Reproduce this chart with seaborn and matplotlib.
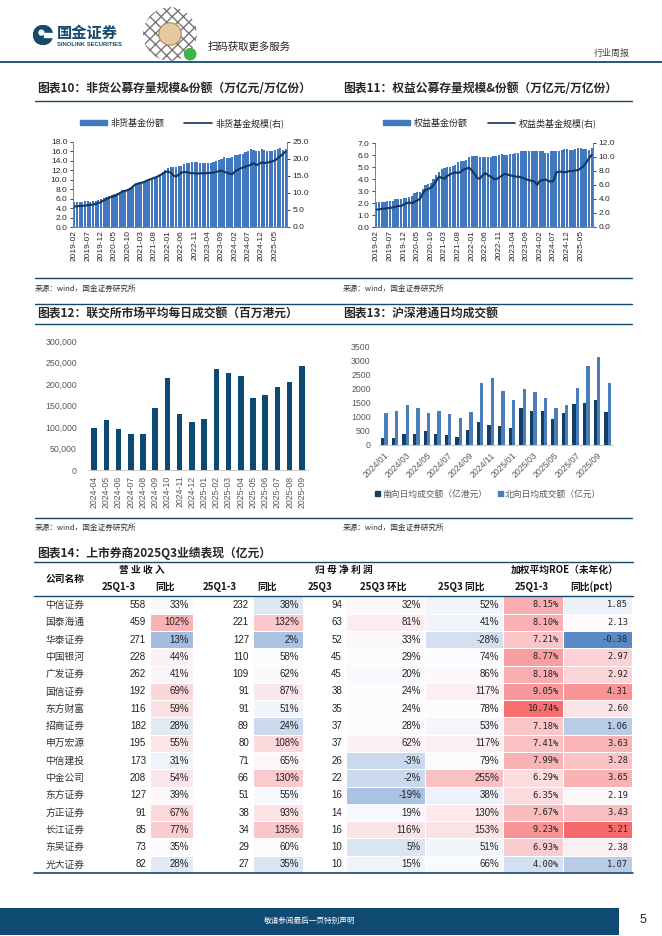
import numpy as np
import pandas as pd
import matplotlib
matplotlib.use("Agg")
import matplotlib.pyplot as plt
import seaborn as sns
from matplotlib.lines import Line2D
from matplotlib.patches import Circle, Rectangle
from matplotlib.colors import LinearSegmentedColormap
from matplotlib.ticker import FuncFormatter, MultipleLocator

sns.set_style("white")
plt.rcParams["font.family"] = ["Noto Sans CJK SC", "DejaVu Sans"]
plt.rcParams["axes.unicode_minus"] = False

W, H = 662, 936
NUM = ["Liberation Sans", "Noto Sans CJK SC"]
NAVY = "#17496D"
BAR_BLUE = "#4178BE"
LINE_NAVY = "#14375E"
GREY_TXT = "#595959"

# ---------------- data ----------------
fund_months = list(pd.date_range("2019-02-01", "2025-09-01", freq="MS").strftime("%Y-%m"))

# 图表10 非货基金份额(万亿份) / 规模(万亿元)
nonmoney_share = [5.2, 5.3, 5.4, 5.4, 5.5, 5.5, 5.4, 5.5, 5.6, 5.8, 6.0,
                  6.1, 6.3, 6.5, 6.7, 6.9, 7.2, 7.5, 7.8, 7.9, 8.1, 8.3, 8.6,
                  9.0, 9.3, 9.6, 9.8, 10.0, 10.2, 10.4, 10.6, 10.9, 11.2, 11.6, 12.0,
                  12.5, 12.7, 12.8, 12.8, 12.9, 13.0, 13.3, 13.5, 13.6, 13.7, 13.8, 13.7,
                  13.6, 13.5, 13.6, 13.5, 13.6, 13.8, 14.0, 14.2, 14.5, 14.8, 14.6, 14.6,
                  14.8, 15.2, 15.3, 15.4, 15.4, 15.9, 16.2, 16.5, 16.4, 16.2, 16.0, 16.6,
                  16.4, 16.1, 16.2, 16.2, 16.3, 16.5, 16.7, 16.4, 16.6]
nonmoney_aum = [6.0, 6.1, 6.2, 6.2, 6.3, 6.4, 6.5, 6.6, 6.8, 7.0, 7.4,
                7.8, 8.2, 8.6, 8.9, 9.1, 9.4, 10.0, 10.4, 10.6, 10.9, 11.3, 12.0,
                12.6, 12.8, 13.0, 13.2, 13.6, 13.9, 14.2, 14.5, 14.8, 15.2, 15.7, 16.2,
                16.3, 16.0, 15.2, 14.8, 15.4, 16.0, 16.2, 16.1, 15.9, 15.8, 15.8, 15.7,
                15.8, 15.8, 15.8, 15.9, 15.9, 16.0, 16.2, 16.4, 16.6, 16.2, 16.0, 15.7,
                15.5, 16.3, 16.8, 17.2, 17.5, 17.8, 18.0, 18.3, 18.8, 18.2, 18.5, 19.0,
                18.8, 18.9, 19.1, 19.3, 19.6, 20.2, 20.8, 21.5, 22.2]

# 图表11 权益基金份额(万亿份) / 规模(万亿元)
equity_share = [2.1, 2.1, 2.1, 2.1, 2.2, 2.2, 2.2, 2.3, 2.3, 2.3, 2.4,
                2.4, 2.5, 2.6, 2.8, 2.9, 2.9, 3.2, 3.5, 3.6, 3.7, 4.0, 4.3,
                4.6, 4.8, 4.9, 5.0, 5.0, 5.1, 5.2, 5.4, 5.5, 5.5, 5.6, 5.8,
                5.9, 5.9, 5.9, 5.8, 5.8, 5.8, 5.8, 5.8, 5.9, 5.9, 6.0, 6.1,
                6.0, 6.0, 6.1, 6.1, 6.2, 6.2, 6.3, 6.3, 6.3, 6.3, 6.3, 6.3,
                6.3, 6.3, 6.3, 6.2, 6.2, 6.3, 6.3, 6.3, 6.3, 6.4, 6.5, 6.5,
                6.4, 6.4, 6.5, 6.6, 6.6, 6.5, 6.5, 6.4, 6.6]
equity_aum = [2.5, 2.5, 2.6, 2.6, 2.7, 2.7, 2.8, 2.9, 3.0, 3.0, 3.2,
              3.4, 3.5, 3.4, 3.6, 3.8, 4.0, 4.8, 5.3, 5.4, 5.6, 6.0, 6.6,
              7.2, 7.0, 6.9, 7.3, 7.5, 7.7, 7.8, 7.7, 7.9, 8.2, 8.3, 8.5,
              8.1, 7.6, 7.0, 6.9, 7.4, 7.7, 7.4, 7.2, 6.9, 6.8, 7.1, 7.3,
              7.6, 7.5, 7.4, 7.3, 7.2, 7.2, 7.1, 7.0, 6.8, 6.7, 6.6, 6.5,
              6.0, 6.6, 6.7, 6.8, 6.6, 6.5, 6.6, 7.8, 7.9, 7.9, 7.8, 7.9,
              8.0, 8.0, 8.1, 8.1, 8.4, 8.7, 9.2, 9.8, 10.3]

# 图表12 联交所市场平均每日成交额（百万港元）
hk_months = ["2024-04", "2024-05", "2024-06", "2024-07", "2024-08", "2024-09",
             "2024-10", "2024-11", "2024-12", "2025-01", "2025-02", "2025-03",
             "2025-04", "2025-05", "2025-06", "2025-07", "2025-08", "2025-09"]
hk_turnover = [97000, 116000, 95000, 83000, 83000, 144000, 215000, 130000, 111000,
               118000, 234000, 225000, 218000, 167000, 175000, 192000, 204000, 243000]

# 图表13 沪深港通日均成交额
connect_months = ["2024/01", "2024/02", "2024/03", "2024/04", "2024/05", "2024/06",
                  "2024/07", "2024/08", "2024/09", "2024/10", "2024/11", "2024/12",
                  "2025/01", "2025/02", "2025/03", "2025/04", "2025/05", "2025/06",
                  "2025/07", "2025/08", "2025/09", "2025/10"]
southbound = [250, 250, 377, 377, 506, 377, 341, 271, 542, 801, 695, 660,
              589, 1296, 1190, 1190, 907, 1119, 1437, 1472, 1578, 1154]
northbound = [1119, 1201, 1402, 1307, 1119, 1201, 1084, 954, 1154, 2179, 2368, 1897,
              1590, 1967, 1861, 1649, 1307, 1402, 2002, 2780, 3098, 2179]
south_label = "南向日均成交额（亿港元）"
north_label = "北向日均成交额（亿元）"

# 图表14 上市券商2025Q3业绩表现（亿元）
brokers = ["中信证券", "国泰海通", "华泰证券", "中国银河", "广发证券", "国信证券",
           "东方财富", "招商证券", "申万宏源", "中信建投", "中金公司", "东方证券",
           "方正证券", "长江证券", "东吴证券", "光大证券"]
revenue = [558, 459, 271, 228, 262, 192, 116, 182, 195, 173, 208, 127, 91, 85, 73, 82]
revenue_yoy = [33, 102, 13, 44, 41, 69, 59, 28, 55, 31, 54, 39, 67, 77, 35, 28]
net_profit = [232, 221, 127, 110, 109, 91, 91, 89, 80, 71, 66, 51, 38, 34, 29, 27]
net_profit_yoy = [38, 132, 2, 58, 62, 87, 51, 24, 108, 65, 130, 55, 93, 135, 60, 35]
q3_profit = [94, 63, 52, 45, 45, 38, 35, 37, 37, 26, 22, 16, 14, 16, 10, 10]
q3_qoq = [32, 81, 33, 29, 20, 24, 24, 28, 62, -3, -2, -19, 19, 116, 5, 15]
q3_yoy = [52, 41, -28, 74, 86, 117, 78, 53, 117, 79, 255, 38, 130, 153, 51, 66]
roe = [8.15, 8.10, 7.21, 8.77, 8.18, 9.05, 10.74, 7.18, 7.41, 7.99, 6.29, 6.35,
       7.67, 9.23, 6.93, 4.00]
roe_pct = [1.85, 2.13, -0.38, 2.97, 2.92, 4.31, 2.60, 1.06, 3.63, 3.28, 3.65, 2.19,
           3.43, 5.21, 2.38, 1.07]

# ---------------- helpers ----------------
fig = plt.figure(figsize=(W / 100, H / 100), dpi=100)


def fx(x):
    return x / W


def fy(y):
    return 1 - y / H


def px_axes(x0, y0, x1, y1):
    return fig.add_axes([fx(x0), fy(y1), (x1 - x0) / W, (y1 - y0) / H])


def hline(x0, x1, y, color=NAVY, lw=1.0):
    fig.add_artist(Line2D([fx(x0), fx(x1)], [fy(y), fy(y)], transform=fig.transFigure,
                          color=color, lw=lw))


def put(x, y, s, **kw):
    kw.setdefault("va", "center")
    fig.text(fx(x), fy(y), s, **kw)


# ---------------- page header ----------------
logo = px_axes(33, 25, 53, 45)
logo.set_xlim(0, 1)
logo.set_ylim(0, 1)
logo.set_aspect("equal")
logo.axis("off")
logo.add_patch(Circle((0.5, 0.5), 0.48, color=NAVY))
logo.add_patch(Rectangle((0.55, 0.38), 0.5, 0.24, color="white"))
logo.add_patch(Circle((0.42, 0.62), 0.12, color="white"))
put(57, 33, "国金证券", fontsize=11, fontweight="bold", color=NAVY)
put(57, 44, "SINOLINK SECURITIES", fontsize=4.2, fontweight="bold", color=NAVY, family=NUM)

qr = px_axes(142, 6, 198, 62)
qr.set_xlim(0, 1)
qr.set_ylim(0, 1)
qr.set_aspect("equal")
qr.axis("off")
qr.add_patch(Circle((0.5, 0.5), 0.48, facecolor="white", edgecolor="#777777", hatch="xxx", lw=0))
qr.add_patch(Circle((0.5, 0.5), 0.2, facecolor="#E4C9A2", edgecolor="#B08850", lw=0.8))
qr.add_patch(Circle((0.86, 0.14), 0.1, color="#3BB34A"))
put(208, 47, "扫码获取更多服务", fontsize=7.5, color="#222222")
put(612, 53, "行业周报", fontsize=6.5, ha="center", color="#404040")
hline(0, W, 62, lw=1.3)

# ---------------- chart titles ----------------
put(37, 89, "图表10：非货公募存量规模&份额（万亿元/万亿份）", fontsize=8.5, fontweight="bold")
put(343, 89, "图表11：权益公募存量规模&份额（万亿元/万亿份）", fontsize=8.5, fontweight="bold")
hline(35, 632, 101, lw=1.0)


def fund_chart(box, shares, aum, left_max, left_step, right_max, right_step,
               bar_label, line_label, legend_x):
    ax = px_axes(*box)
    frame = pd.DataFrame({"month": fund_months, "share": shares})
    sns.barplot(data=frame, x="month", y="share", color=BAR_BLUE, saturation=1,
                width=0.8, linewidth=0, ax=ax)
    ax.set_xlim(-0.5, len(fund_months) - 0.5)
    ax.set_ylim(0, left_max)
    ax.yaxis.set_major_locator(MultipleLocator(left_step))
    ax.yaxis.set_major_formatter(FuncFormatter(lambda v, p: f"{v:.1f}"))
    ax.set_xticks(range(0, len(fund_months), 5))
    ax.set_xticklabels(fund_months[::5], rotation=90, family=NUM, fontsize=6)
    ax.set_xlabel("")
    ax.set_ylabel("")
    ax.tick_params(axis="y", left=True, length=2, width=0.6, pad=2, labelsize=6)
    ax.tick_params(axis="x", length=0, pad=2)
    for lab in ax.get_yticklabels():
        lab.set_family(NUM)
    ax2 = ax.twinx()
    sns.lineplot(x=np.arange(len(fund_months)), y=aum, color=LINE_NAVY, lw=1.5, ax=ax2)
    ax2.set_ylim(0, right_max)
    ax2.yaxis.set_major_locator(MultipleLocator(right_step))
    ax2.yaxis.set_major_formatter(FuncFormatter(lambda v, p: f"{v:.1f}"))
    ax2.tick_params(axis="y", right=True, length=2, width=0.6, pad=2, labelsize=6)
    for lab in ax2.get_yticklabels():
        lab.set_family(NUM)
    ax2.set_ylabel("")
    for a in (ax, ax2):
        a.spines["top"].set_visible(False)
        for s in ("left", "right", "bottom"):
            a.spines[s].set_color("#7F7F7F")
            a.spines[s].set_linewidth(0.6)
    handles = [Rectangle((0, 0), 1, 1, color=BAR_BLUE), Line2D([], [], color=LINE_NAVY, lw=1.2)]
    fig.legend(handles, [bar_label, line_label], loc="center",
               bbox_to_anchor=(fx(legend_x), fy(123)), ncol=2, frameon=False,
               fontsize=6.5, handlelength=3.0, handleheight=0.45, columnspacing=2.2,
               handletextpad=0.4)


fund_chart((73, 142, 287, 227), nonmoney_share, nonmoney_aum, 18, 2, 25, 5,
           "非货基金份额", "非货基金规模(右)", 182)
fund_chart((375, 143, 593, 227), equity_share, equity_aum, 7, 1, 12, 2,
           "权益基金份额", "权益类基金规模(右)", 490)

hline(35, 632, 278, lw=1.0)
put(35, 289, "来源：wind，国金证券研究所", fontsize=5.5, color="#333333")
put(343, 289, "来源：wind，国金证券研究所", fontsize=5.5, color="#333333")

# ---------------- charts 12 / 13 ----------------
hline(35, 632, 304, lw=1.0)
put(37, 314, "图表12：联交所市场平均每日成交额（百万港元）", fontsize=8.5, fontweight="bold")
put(343, 314, "图表13：沪深港通日均成交额", fontsize=8.5, fontweight="bold")
hline(35, 632, 324, lw=1.0)

ax = px_axes(88, 341, 308, 470)
sns.barplot(x=hk_months, y=hk_turnover, color="#0C4A74", saturation=1, width=0.45,
            linewidth=0, ax=ax)
ax.set_xlim(-0.5, len(hk_months) - 0.5)
ax.set_ylim(0, 300000)
ax.yaxis.set_major_locator(MultipleLocator(50000))
ax.yaxis.set_major_formatter(FuncFormatter(lambda v, p: f"{int(v):,}"))
ax.tick_params(axis="y", length=0, pad=8, labelsize=6.3, labelcolor=GREY_TXT)
ax.tick_params(axis="x", rotation=90, length=2, width=0.5, color="#BFBFBF", pad=2,
               labelsize=6.3, labelcolor=GREY_TXT)
for lab in ax.get_xticklabels() + ax.get_yticklabels():
    lab.set_family(NUM)
sns.despine(ax=ax, left=True)
ax.spines["bottom"].set_color("#BFBFBF")
ax.spines["bottom"].set_linewidth(0.6)

ax = px_axes(379, 346, 613, 445)
conn = pd.DataFrame({"month": connect_months * 2,
                     "value": southbound + northbound,
                     "dir": [south_label] * len(connect_months) + [north_label] * len(connect_months)})
sns.barplot(data=conn, x="month", y="value", hue="dir", palette=["#123F67", "#4A7EBB"],
            saturation=1, width=0.62, gap=0, linewidth=0, legend=False, ax=ax)
ax.set_xlim(-0.5, len(connect_months) - 0.5)
ax.set_ylim(0, 3500)
ax.yaxis.set_major_locator(MultipleLocator(500))
ax.set_xticks(range(0, len(connect_months), 2))
ax.set_xticklabels(connect_months[::2], rotation=45, ha="right", rotation_mode="anchor")
ax.set_xlabel("")
ax.set_ylabel("")
ax.tick_params(axis="y", length=0, pad=6, labelsize=6.3, labelcolor=GREY_TXT)
ax.tick_params(axis="x", length=2, width=0.5, color="#BFBFBF", pad=2, labelsize=6.3,
               labelcolor=GREY_TXT)
for lab in ax.get_xticklabels() + ax.get_yticklabels():
    lab.set_family(NUM)
sns.despine(ax=ax, left=True)
ax.spines["bottom"].set_color("#BFBFBF")
ax.spines["bottom"].set_linewidth(0.6)
fig.legend([Rectangle((0, 0), 1, 1, color="#123F67"), Rectangle((0, 0), 1, 1, color="#4A7EBB")],
           [south_label, north_label], loc="center", bbox_to_anchor=(fx(488), fy(494)),
           ncol=2, frameon=False, fontsize=6.3, handlelength=0.6, handleheight=0.6,
           handletextpad=0.2, columnspacing=1.2, labelcolor=GREY_TXT)

hline(35, 632, 518, lw=1.0)
put(35, 528, "来源：wind，国金证券研究所", fontsize=5.5, color="#333333")
put(343, 528, "来源：wind，国金证券研究所", fontsize=5.5, color="#333333")

# ---------------- table 14 ----------------
put(37, 553, "图表14：上市券商2025Q3业绩表现（亿元）", fontsize=8.5, fontweight="bold")
hline(34, 633, 562, lw=1.0)

HEAD = dict(fontsize=7, fontweight="bold", ha="center", color="#111111")
put(65, 579, "公司名称", **HEAD)
put(142, 570, "营 业 收 入", **HEAD)
put(344, 570, "归 母 净 利 润", **HEAD)
put(565, 570, "加权平均ROE（未年化）", **HEAD)
for xc, s in [(119, "25Q1-3"), (165, "同比"), (220, "25Q1-3"), (267, "同比"), (320, "25Q3"),
              (383, "25Q3 环比"), (461, "25Q3 同比"), (532, "25Q1-3"), (592, "同比(pct)")]:
    put(xc, 587, s, **HEAD)
hline(34, 633, 596.3, lw=1.0)

TAB_TOP, ROW_H = 596.3, 17.3
n_rows = len(brokers)
excel_cmap = LinearSegmentedColormap.from_list("excel3", ["#5A8AC6", "#FCFCFF", "#F8696B"])

# (min, mid, max) anchors of each column's colour scale
colour_cols = [
    ("rev_yoy", revenue_yoy, 150, 193, (-4, 34, 170)),
    ("np_yoy", net_profit_yoy, 253, 303, (-54, 58, 270)),
    ("q3_qoq", q3_qoq, 346, 425, (-60, 22, 600)),
    ("q3_yoy", q3_yoy, 425, 503, (-340, 75, 525)),
    ("roe", roe, 503, 563, (1.0, 5.0, 11.0)),
    ("roe_pct", roe_pct, 563, 632, (-0.38, 2.1, 5.21)),
]
for key, vals, x0, x1, (lo, mid, hi) in colour_cols:
    v = np.array(vals, dtype=float)
    t = np.where(v >= mid, (v - mid) / (hi - mid), -(mid - v) / (mid - lo))
    heat = pd.DataFrame({key: np.clip(t, -1, 1)}, index=brokers)
    axh = px_axes(x0, TAB_TOP, x1, TAB_TOP + ROW_H * n_rows)
    sns.heatmap(heat, cmap=excel_cmap, vmin=-1, vmax=1, cbar=False, linewidths=0.7,
                linecolor="white", xticklabels=False, yticklabels=False, ax=axh)
    axh.set_xlabel("")
    axh.set_ylabel("")

text_cols = [
    (revenue, 146, lambda v: f"{v}", NUM),
    (revenue_yoy, 189, lambda v: f"{v}%", NUM),
    (net_profit, 249, lambda v: f"{v}", NUM),
    (net_profit_yoy, 299, lambda v: f"{v}%", NUM),
    (q3_profit, 342, lambda v: f"{v}", NUM),
    (q3_qoq, 421, lambda v: f"{v}%", NUM),
    (q3_yoy, 499, lambda v: f"{v}%", NUM),
    (roe, 559, lambda v: f"{v:.2f}%", ["DejaVu Sans Mono"]),
    (roe_pct, 628, lambda v: f"{v:.2f}", ["DejaVu Sans Mono"]),
]
for i, name in enumerate(brokers):
    yc = TAB_TOP + ROW_H * (i + 0.5)
    put(65, yc, name, fontsize=7, ha="center", color="#333333")
    for vals, xr, fmt, fam in text_cols:
        size = 6.3 if fam != NUM else 7
        put(xr, yc, fmt(vals[i]), fontsize=size, ha="right", color="#222222", family=fam)
hline(34, 633, TAB_TOP + ROW_H * n_rows, lw=1.2)

# ---------------- footer ----------------
foot = px_axes(0, 908, 619, 935)
foot.set_facecolor("#0E4A72")
foot.set_xticks([])
foot.set_yticks([])
for s in foot.spines.values():
    s.set_visible(False)
put(310, 921, "敬请参阅最后一页特别声明", fontsize=5.5, ha="center", color="white")
put(643, 920, "5", fontsize=9, ha="center", color="#222222", family=NUM)

fig.savefig("out.png", dpi=100)
